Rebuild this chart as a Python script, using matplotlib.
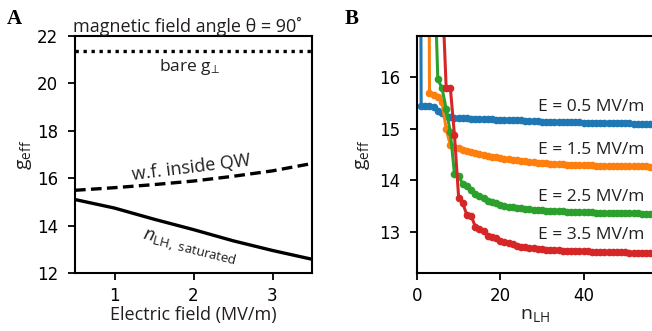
import numpy as np
import matplotlib.pyplot as plt

# ---- panel A data ----
efield = [0.5, 1.0, 1.5, 2.0, 2.5, 3.0, 3.5]
g_bare = [21.37] * len(efield)
g_wf = [15.49, 15.60, 15.73, 15.88, 16.08, 16.31, 16.62]
g_sat = [15.10, 14.74, 14.27, 13.83, 13.36, 12.95, 12.58]

# ---- panel B data (g_eff vs n_LH) ----
n_blue = list(range(0, 57))
g_blue = [40.0, 15.44, 15.44, 15.44, 15.43, 15.35, 15.30, 15.25, 15.23, 15.21,
          15.21, 15.20, 15.20, 15.19, 15.19, 15.19, 15.18, 15.18, 15.18, 15.17,
          15.17, 15.17, 15.16, 15.16, 15.16, 15.16, 15.15, 15.15, 15.15, 15.15,
          15.14, 15.14, 15.14, 15.14, 15.14, 15.13, 15.13, 15.13, 15.13, 15.13,
          15.12, 15.12, 15.12, 15.12, 15.12, 15.12, 15.11, 15.11, 15.11, 15.11,
          15.11, 15.11, 15.10, 15.10, 15.10, 15.10, 15.10]

n_orange = list(range(2, 57))
g_orange = [40.0, 15.69, 15.66, 15.62, 15.51, 15.00, 14.68, 14.65, 14.62, 14.59,
            14.57, 14.55, 14.53, 14.51, 14.49, 14.47, 14.46, 14.45, 14.43, 14.42,
            14.41, 14.40, 14.39, 14.38, 14.37, 14.36, 14.35, 14.34, 14.33, 14.33,
            14.32, 14.32, 14.31, 14.31, 14.30, 14.30, 14.30, 14.29, 14.29, 14.29,
            14.29, 14.28, 14.28, 14.28, 14.28, 14.28, 14.27, 14.27, 14.27, 14.27,
            14.27, 14.27, 14.27, 14.27, 14.26]

n_green = list(range(4, 57))
g_green = [18.5, 15.96, 15.79, 15.38, 14.93, 14.12, 14.08, 13.93, 13.88, 13.82,
           13.73, 13.70, 13.65, 13.60, 13.57, 13.55, 13.52, 13.50, 13.49, 13.48,
           13.47, 13.46, 13.45, 13.44, 13.43, 13.42, 13.42, 13.41, 13.41, 13.40,
           13.40, 13.40, 13.39, 13.39, 13.39, 13.38, 13.38, 13.38, 13.38, 13.37,
           13.37, 13.37, 13.37, 13.37, 13.36, 13.36, 13.36, 13.36, 13.36, 13.36,
           13.35, 13.35, 13.35]

n_red = list(range(6, 57))
g_red = [17.8, 15.80, 15.80, 14.87, 13.66, 13.55, 13.32, 13.31, 13.10, 13.06,
         13.02, 12.92, 12.90, 12.88, 12.82, 12.80, 12.78, 12.76, 12.73, 12.71,
         12.70, 12.69, 12.68, 12.67, 12.66, 12.65, 12.65, 12.64, 12.64, 12.63,
         12.63, 12.63, 12.62, 12.62, 12.62, 12.62, 12.61, 12.61, 12.61, 12.61,
         12.60, 12.60, 12.60, 12.60, 12.60, 12.59, 12.59, 12.59, 12.59, 12.59,
         12.58]

labels_B = ["E = 0.5 MV/m", "E = 1.5 MV/m", "E = 2.5 MV/m", "E = 3.5 MV/m"]
label_y = [15.42, 14.58, 13.67, 12.93]

plt.rcParams['font.family'] = ['Open Sans', 'DejaVu Sans']
plt.rcParams['mathtext.fontset'] = 'custom'
plt.rcParams['mathtext.rm'] = 'Open Sans'
plt.rcParams['mathtext.it'] = 'Open Sans:italic'
txt = '#231f20'

fig = plt.figure(figsize=(6.52, 3.31), dpi=100)
axA = fig.add_axes([75 / 652, 58 / 331, 237 / 652, 237 / 331])
axB = fig.add_axes([417 / 652, 58 / 331, 237 / 652, 237 / 331])

# ---- panel A ----
axA.plot(efield, g_bare, color='k', lw=2.4, ls=(0, (1, 1.4)))
axA.plot(efield, g_wf, color='k', lw=2.4, ls=(0, (3.2, 1.6)))
axA.plot(efield, g_sat, color='k', lw=2.4)
axA.set_xlim(0.5, 3.5)
axA.set_ylim(12, 22)
axA.set_xticks([1, 2, 3])
axA.set_yticks([12, 14, 16, 18, 20, 22])
axA.set_xlabel('Electric field (MV/m)', fontsize=13, color=txt, labelpad=1)
axA.set_ylabel(r'g$_{\mathrm{eff}}$', fontsize=14, color=txt, labelpad=2)
axA.set_title('magnetic field angle θ = 90˚', fontsize=13, color=txt, pad=3, x=0.475)
axA.text(1.95, 20.7, r'bare g$_{\!\perp}$', fontsize=12.5, color=txt, ha='center', va='center')
axA.text(1.97, 16.45, 'w.f. inside QW', fontsize=13, color=txt, ha='center', va='center', rotation=7)
axA.text(1.95, 13.05, r'$n_{\mathrm{LH,\ saturated}}$', fontsize=13.5, color=txt, ha='center', va='center',
         rotation=-14)

# ---- panel B ----
for n, g in [(n_blue, g_blue), (n_orange, g_orange), (n_green, g_green), (n_red, g_red)]:
    axB.plot(n, g, marker='o', ms=4.5, lw=2.2)
for lab, y in zip(labels_B, label_y):
    axB.text(54.6, y, lab, fontsize=12.5, color=txt, ha='right', va='center')
axB.set_xlim(0, 56.9)
axB.set_ylim(12.2, 16.8)
axB.set_xticks([0, 20, 40])
axB.set_yticks([13, 14, 15, 16])
axB.set_xlabel(r'n$_{\mathrm{LH}}$', fontsize=14, color=txt, labelpad=1)
axB.set_ylabel(r'g$_{\mathrm{eff}}$', fontsize=14, color=txt, labelpad=5)

for ax in (axA, axB):
    for s in ax.spines.values():
        s.set_linewidth(1.5)
    ax.tick_params(labelsize=12, width=1.3, length=5, labelfontfamily='DejaVu Sans')
    ax.tick_params(axis='y', pad=7)
    ax.tick_params(axis='x', pad=5)

fig.text(7 / 652, 1 - 24 / 331, 'A', fontsize=15, fontweight='bold', family='Liberation Serif')
fig.text(345 / 652, 1 - 24 / 331, 'B', fontsize=15, fontweight='bold', family='Liberation Serif')

fig.savefig('out.png', dpi=100)
